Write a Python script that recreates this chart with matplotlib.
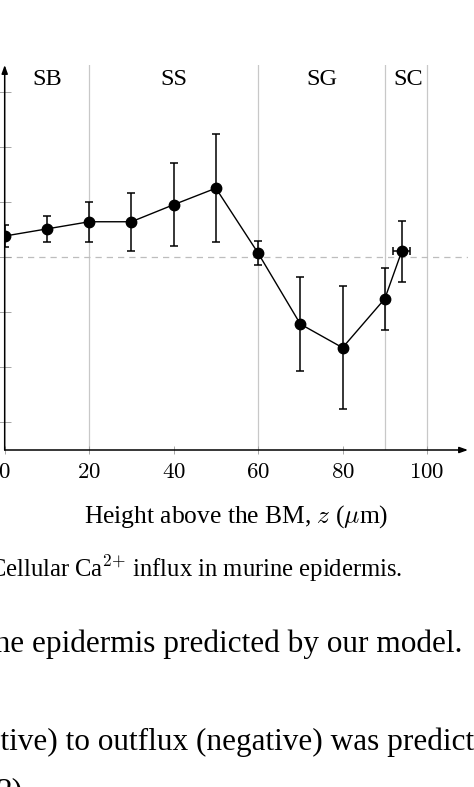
import matplotlib.pyplot as plt

plt.rcParams['font.family'] = ['Liberation Serif', 'DejaVu Serif']
plt.rcParams['mathtext.fontset'] = 'cm'

# Ca2+ influx vs height above the basement membrane
heights = [0, 10, 20, 30, 40, 50, 60, 70, 80, 90, 94]
influx = [0.38, 0.51, 0.64, 0.64, 0.95, 1.25, 0.07, -1.22, -1.65, -0.76, 0.10]
influx_err = [0.20, 0.23, 0.36, 0.53, 0.75, 0.98, 0.22, 0.85, 1.12, 0.56, 0.55]
sc_height_err = 2.0

# epidermal layers
layer_bounds = [20, 60, 90, 100]
layer_names = ['SB', 'SS', 'SG', 'SC']
layer_centres = [10, 40, 75, 95.5]

xticks = [0, 20, 40, 60, 80, 100]
yticks = [-3, -2, -1, 0, 1, 2, 3]

W, H = 474, 787
fig = plt.figure(figsize=(W / 100, H / 100), dpi=100)


def fx(px):
    return px / W


def fy(py):
    return 1 - py / H


# axes placed so the page crop lines up with the reference
ax = fig.add_axes([fx(4.7), fy(450), fx(468) - fx(4.7), fy(65) - fy(450)])
ax.set_xlim(0, 109.7)
ax.set_ylim(-3.51, 3.49)

for s in ax.spines.values():
    s.set_visible(False)

grey = '#c8c8c8'
for b in layer_bounds:
    ax.axvline(b, color=grey, lw=0.9, zorder=1)
ax.axhline(0, color='#bdbdbd', lw=0.9, dashes=(5, 4), zorder=1)

for name, c in zip(layer_names, layer_centres):
    ax.text(c, 3.22, name, ha='center', va='center', fontsize=17.5)

ax.errorbar(heights, influx, yerr=influx_err, fmt='-o', color='black',
            lw=1.0, ms=7.5, elinewidth=1.1, capsize=3, capthick=1.1, zorder=3)
ax.errorbar(heights[-1:], influx[-1:], xerr=[sc_height_err], fmt='none',
            ecolor='black', elinewidth=1.1, capsize=3, capthick=1.1, zorder=3)

# axis arrows
arrow = dict(arrowstyle='-|>,head_length=0.5,head_width=0.18', lw=1.1,
             color='black', shrinkA=0, shrinkB=0)
ax.annotate('', xy=(1, 0), xytext=(0, 0), xycoords='axes fraction',
            arrowprops=arrow)
ax.annotate('', xy=(0, 1), xytext=(0, 0), xycoords='axes fraction',
            arrowprops=arrow)

ax.set_xticks(xticks)
ax.set_xticklabels(['$%d$' % t for t in xticks])
ax.set_yticks(yticks)
ax.set_yticklabels([])
ax.tick_params(axis='x', direction='inout', length=6, width=0.6,
               color='#999999', labelsize=16.5, pad=6)
ax.tick_params(axis='y', direction='inout', length=8, width=0.6,
               color='#999999')

fig.text(fx(236), fy(523), 'Height above the BM, $z$ ($\\mu$m)',
         ha='center', va='baseline', fontsize=18.4)
fig.text(fx(-11), fy(577), 'Cellular Ca$^{2{+}}$ influx in murine epidermis.',
         ha='left', va='baseline', fontsize=17.7)

# surrounding page text
fig.text(fx(462), fy(652), 'the epidermis predicted by our model.',
         ha='right', va='baseline', fontsize=22.5)
r = fig.canvas.get_renderer()
probe = fig.text(0, 0, '(posi', fontsize=22.5)
shift = probe.get_window_extent(r).width
probe.remove()
fig.text(fx(1 - shift), fy(750),
         '(positive) to outflux (negative) was predicted',
         ha='left', va='baseline', fontsize=22.5)
fig.text(fx(-3), fy(799), '2)', ha='left', va='baseline', fontsize=22.5)

fig.savefig('out.png', dpi=100)
